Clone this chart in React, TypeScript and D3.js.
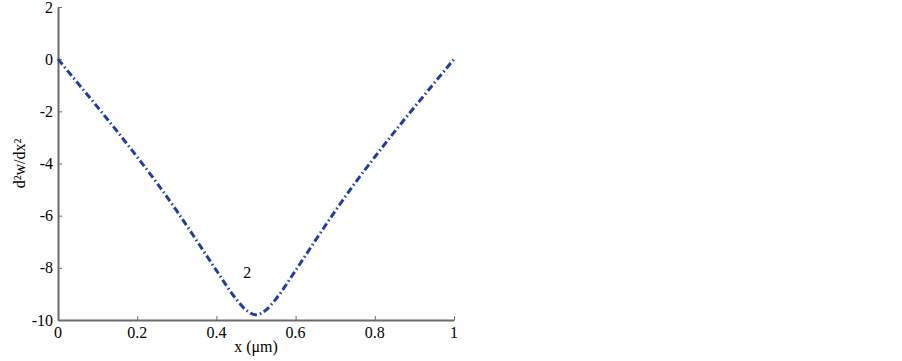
import { useRef, useEffect } from 'react'
import * as d3 from 'd3'

const xValues = [0, 0.05, 0.1, 0.15, 0.2, 0.25, 0.3, 0.35, 0.4, 0.45, 0.475, 0.5,
  0.525, 0.55, 0.6, 0.65, 0.7, 0.75, 0.8, 0.85, 0.9, 0.95, 1]
const yValues = [0, -0.92, -1.84, -2.78, -3.75, -4.75, -5.82, -6.95, -8.1, -9.2, -9.62, -9.8,
  -9.62, -9.2, -8.1, -6.95, -5.82, -4.75, -3.75, -2.78, -1.84, -0.92, 0]
const xTicks = [0, 0.2, 0.4, 0.6, 0.8, 1]
const yTicks = [2, 0, -2, -4, -6, -8, -10]
const curveLabel = { x: 0.478, y: -8.4, text: '2' }

function Chart() {
  const chartRef = useRef<HTMLDivElement>(null)

  function renderChart(container: HTMLDivElement | null) {
    if (container === null) {
      return
    }
    const width = 902
    const height = 361
    const axisColor = '#6b6b6b'
    const font = 'Liberation Serif'

    container.innerHTML = ''
    const svg = d3.select(container).append('svg')
      .attr('width', width)
      .attr('height', height)
      .style('position', 'absolute')
      .style('left', '0px')
      .style('top', '0px')
      .style('background', '#fff')

    const x = d3.scaleLinear().domain([0, 1]).range([58, 454])
    const y = d3.scaleLinear().domain([-10, 2]).range([320, 7])

    const data = xValues.map((d, i) => ({ x: d, y: yValues[i] }))

    // y axis, ticks pointing inward
    const yAxis = svg.append('g')
      .attr('transform', `translate(${x(0)},0)`)
      .call(d3.axisRight(y).tickValues(yTicks).tickSize(4).tickFormat(() => '').tickSizeOuter(0))
    yAxis.select('.domain').attr('stroke', axisColor).attr('stroke-width', 2)
    yAxis.selectAll('.tick line').attr('stroke', axisColor).attr('stroke-width', 1)

    svg.append('g')
      .selectAll('text')
      .data(yTicks)
      .join('text')
      .attr('x', x(0) - 5)
      .attr('y', d => y(d))
      .attr('dy', '0.35em')
      .attr('text-anchor', 'end')
      .style('font-family', font)
      .style('font-size', '16px')
      .text(d => String(d))

    // x axis
    const xAxis = svg.append('g')
      .attr('transform', `translate(0,${y(-10)})`)
      .call(d3.axisTop(x).tickValues(xTicks).tickSize(4).tickFormat(() => '').tickSizeOuter(0))
    xAxis.select('.domain').attr('stroke', axisColor).attr('stroke-width', 2)
    xAxis.selectAll('.tick line').attr('stroke', axisColor).attr('stroke-width', 1)

    svg.append('g')
      .selectAll('text')
      .data(xTicks)
      .join('text')
      .attr('x', d => x(d))
      .attr('y', y(-10) + 18)
      .attr('text-anchor', 'middle')
      .style('font-family', font)
      .style('font-size', '16px')
      .text(d => String(d))

    svg.append('text')
      .attr('x', (x(0) + x(1)) / 2)
      .attr('y', 352)
      .attr('text-anchor', 'middle')
      .style('font-family', font)
      .style('font-size', '16px')
      .text('x (μm)')

    svg.append('text')
      .attr('text-anchor', 'middle')
      .attr('transform', `translate(25,${(y(2) + y(-10)) / 2}) rotate(-90)`)
      .style('font-family', font)
      .style('font-size', '16px')
      .text('d²w/dx²')

    svg.append('path')
      .datum(data)
      .attr('fill', 'none')
      .attr('stroke', '#1f3f9f')
      .attr('stroke-width', 3)
      .attr('stroke-dasharray', '7,3,1.5,3')
      .attr('d', d3.line<{ x: number, y: number }>()
        .x(d => x(d.x))
        .y(d => y(d.y))
        .curve(d3.curveMonotoneX))

    svg.append('text')
      .attr('x', x(curveLabel.x))
      .attr('y', y(curveLabel.y))
      .attr('text-anchor', 'middle')
      .style('font-family', font)
      .style('font-size', '16px')
      .text(curveLabel.text)
  }

  useEffect(() => {
    renderChart(chartRef.current)
  })

  return (
    <div ref={chartRef}>
    </div>
  )
}

export default function App() {
  return <Chart />
}
